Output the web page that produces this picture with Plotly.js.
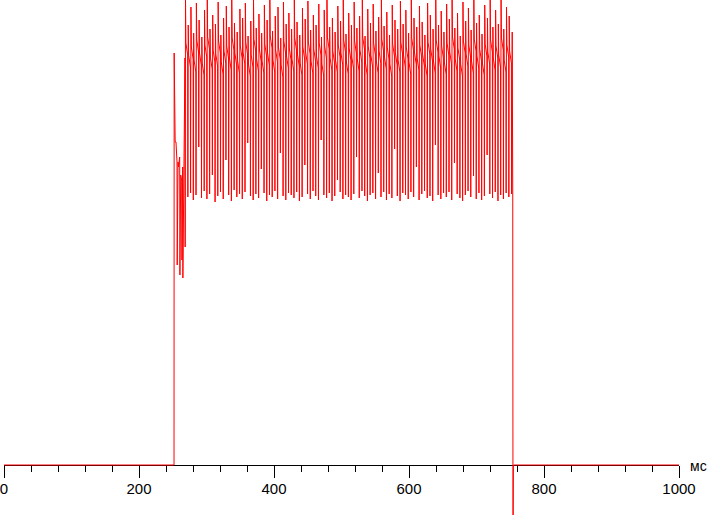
<!DOCTYPE html>
<html>
<head>
<meta charset="utf-8">
<script src="https://cdn.plot.ly/plotly-3.0.1.min.js"></script>
<style>html,body{margin:0;padding:0;background:#fff;}#chart{width:707px;height:515px;}</style>
</head>
<body>
<div id="chart"></div>
<script>
// Time base (ms) and signal values (arbitrary brightness units, 0 = baseline)
const headT = [0, 251.9];
const headV = [0, 0];

// start-up transient
const transT = [252.1, 253.3, 253.6, 254.8, 255.2, 256.3, 256.6, 257.8, 258.5, 260.3, 260.6, 261.8, 262.2, 263.2, 263.6, 264.7, 265.0, 266.2, 266.8, 268.1, 268.4];
const transV = [412, 353, 323, 323, 312, 303, 200, 303, 298, 308, 190, 290, 285, 285, 205, 298, 187, 280, 275, 407, 218];

// steady flicker: one entry per cycle
const cycleStart = 268.6;   // ms
const cyclePeriod = 4.03;   // ms
const peakVals = [
465,440,458,432,462,445,428,455,470,436,450,441,463,430,447,459,438,468,442,433,
456,447,462,429,444,466,437,451,432,460,445,470,434,449,458,427,463,441,452,436,
468,443,430,457,446,464,435,450,440,461,428,455,469,438,447,433,459,444,466,431,
452,440,463,437,449,470,429,456,442,461,434,448,467,439,453,430,460,445,436,464,
441,455,432,468,447,438,459,443,430,462,450,436,466,440,454,433,461,446,469,437,
452,429,463,444,457,435,467,442,450,431,460,447,465,438,455,441,468,436,458,449];
const plateauVals = [
422,410,418,405,425,412,402,420,428,408,415,411,424,403,414,419,407,427,412,404,
419,413,423,401,410,426,406,416,404,421,412,429,405,415,418,400,424,409,417,406,
427,411,402,418,413,423,404,416,409,422,401,419,428,407,414,405,420,412,425,403,
417,408,424,406,415,428,402,419,410,422,404,414,426,408,418,401,421,412,405,423,
410,418,403,427,413,407,420,411,401,423,416,404,425,409,419,403,422,413,428,406,
417,401,424,411,420,404,426,409,416,402,421,413,425,407,419,410,427,405,420,414];
const troughVals = [
268,272,265,270,318,267,274,266,271,290,263,269,273,266,305,270,264,275,268,271,
266,273,322,269,265,271,267,296,272,264,270,268,274,266,312,269,265,272,270,267,
273,264,268,300,271,266,274,269,265,325,270,267,272,264,269,285,273,266,270,268,
265,271,308,267,274,269,264,270,272,266,292,268,273,265,271,267,316,269,264,272,
270,266,273,268,298,265,271,274,267,269,264,320,270,266,272,268,273,265,302,271,
267,264,270,274,268,289,266,272,265,269,310,271,267,273,264,270,266,272,268,271];

// switch-off
const tailT = [752.9, 753.7, 754.1, 754.6, 1000];
const tailV = [433, 266, -95, 0, 0];

const xTicks = [0, 200, 400, 600, 800, 1000];
const unitLabel = 'мс';

// build the polyline
const xs = [...headT, ...transT];
const ys = [...headV, ...transV];
for (let i = 0; i < peakVals.length; i++) {
  const s = cycleStart + i * cyclePeriod;
  xs.push(s + 0.3, s + 0.9, s + 3.5, s + 3.8);
  ys.push(peakVals[i], plateauVals[i], plateauVals[i] - 12, troughVals[i]);
}
xs.push(...tailT); ys.push(...tailV);

const data = [{
  x: xs, y: ys, type: 'scatter', mode: 'lines',
  line: {color: '#ff0000', width: 1},
  hoverinfo: 'skip'
}];

const layout = {
  width: 707, height: 515,
  margin: {l: 4, r: 28, t: 0, b: 0, pad: 0},
  paper_bgcolor: '#ffffff', plot_bgcolor: '#ffffff',
  showlegend: false,
  xaxis: {
    range: [0, 1000], anchor: 'free', position: 50/515,
    showline: true, linecolor: '#000', linewidth: 1,
    showgrid: false, zeroline: false,
    ticks: 'outside', ticklen: 12, tickwidth: 1, tickcolor: '#000',
    tickmode: 'array', tickvals: xTicks, ticktext: xTicks.map(String),
    ticklabeloverflow: 'allow', ticklabelstandoff: -2,
    minor: {dtick: 40, tick0: 0, ticks: 'outside', ticklen: 6, tickwidth: 1, tickcolor: '#000', showgrid: false},
    tickfont: {family: 'Liberation Sans, Arial, sans-serif', size: 15, color: '#000'},
    layer: 'below traces', fixedrange: true
  },
  yaxis: {range: [-50, 465], visible: false, domain: [0, 1], fixedrange: true},
  annotations: [{
    text: unitLabel, xref: 'paper', yref: 'paper',
    x: (688 - 4) / 675, y: (515 - 466) / 515,
    xanchor: 'left', yanchor: 'middle', showarrow: false,
    font: {family: 'Liberation Sans, Arial, sans-serif', size: 14, color: '#000'}
  }]
};

Plotly.newPlot('chart', data, layout, {staticPlot: true, displayModeBar: false});
</script>
</body>
</html>
